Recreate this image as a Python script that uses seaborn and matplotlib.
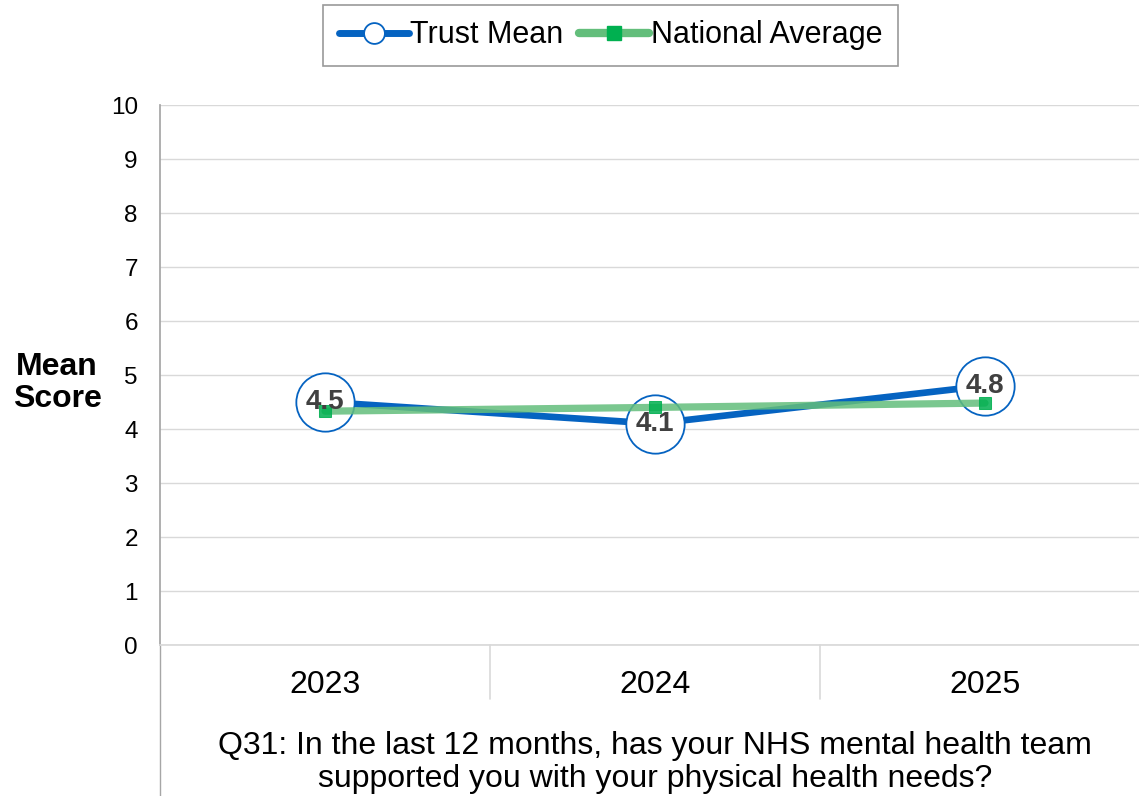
import pandas as pd
import seaborn as sns
import matplotlib.pyplot as plt
from matplotlib.lines import Line2D

# chart values
years = ["2023", "2024", "2025"]
trust_mean = [4.5, 4.1, 4.8]
national_avg = [4.33, 4.4, 4.48]
question = ("Q31: In the last 12 months, has your NHS mental health team\n"
            "supported you with your physical health needs?")

sns.set_theme(style="white")
plt.rcParams["font.family"] = ["Liberation Sans", "DejaVu Sans"]
plt.rcParams["text.color"] = "black"
plt.rcParams["axes.labelcolor"] = "black"
plt.rcParams["xtick.color"] = "black"
plt.rcParams["ytick.color"] = "black"

blue = "#0563C1"
green = "#63BE7B"
green_mk = "#00B050"

df = pd.DataFrame({"year": years, "trust": trust_mean, "national": national_avg})
df["pos"] = range(len(years))

fig = plt.figure(figsize=(11.39, 7.96), dpi=100)
ax = fig.add_axes([160 / 1139, 1 - 645 / 796, 990 / 1139, 540 / 796])

sns.lineplot(data=df, x="pos", y="trust", ax=ax, color=blue, linewidth=4.8,
             marker="o", markersize=42, markerfacecolor="white",
             markeredgecolor=blue, markeredgewidth=1.3, zorder=3)
sns.lineplot(data=df, x="pos", y="national", ax=ax, color=green, linewidth=5.2,
             marker="s", markersize=9, markerfacecolor=green_mk,
             markeredgecolor=green_mk, alpha=0.85, zorder=4)

for x, v in zip(df["pos"], df["trust"]):
    ax.text(x, v, f"{v:.1f}", ha="center", va="center", fontsize=20,
            fontweight="bold", color="#404040", zorder=5)

ax.set_xlim(-0.5, 2.5)
ax.set_ylim(0, 10)
ax.set_yticks(range(0, 11))
ax.set_xticks(df["pos"])
ax.set_xticklabels(years)
ax.tick_params(axis="x", labelsize=23, pad=18, length=0)
ax.tick_params(axis="y", labelsize=17.5, pad=16, length=0)
ax.grid(axis="y", color="#D9D9D9", linewidth=1)
ax.set_axisbelow(True)
for s in ["top", "right"]:
    ax.spines[s].set_visible(False)
ax.spines["left"].set_color("#A6A6A6")
ax.spines["bottom"].set_color("#D9D9D9")

# category separators and extended left axis line
for b in [0.5, 1.5]:
    ax.plot([b, b], [0, -1.0], color="#D9D9D9", lw=1.2, clip_on=False)
ax.plot([-0.5, -0.5], [0, -2.8], color="#A6A6A6", lw=1, clip_on=False)

ax.set_xlabel(question, fontsize=23, labelpad=22, linespacing=1.15)
ax.set_ylabel("Mean\nScore", fontsize=23, fontweight="bold", rotation=0,
              ha="center", va="center", linespacing=1.1)
ax.yaxis.set_label_coords(-0.104, 0.485)

handles = [
    Line2D([], [], color=blue, lw=5, marker="o", markersize=15,
           markerfacecolor="white", markeredgecolor=blue, markeredgewidth=1.3),
    Line2D([], [], color=green, lw=6, marker="s", markersize=10,
           markerfacecolor=green_mk, markeredgecolor=green_mk),
]
leg = fig.legend(handles, ["Trust Mean", "National Average"], loc="upper center",
                 bbox_to_anchor=(0.536, 1 - 5 / 796), ncol=2, fontsize=22,
                 frameon=True, fancybox=False, handlelength=2.3,
                 handletextpad=0.05, columnspacing=0.5, borderpad=0.5,
                 borderaxespad=0)
leg.get_frame().set_edgecolor("#808080")
leg.get_frame().set_linewidth(1.2)

fig.savefig("out.png", dpi=100)
